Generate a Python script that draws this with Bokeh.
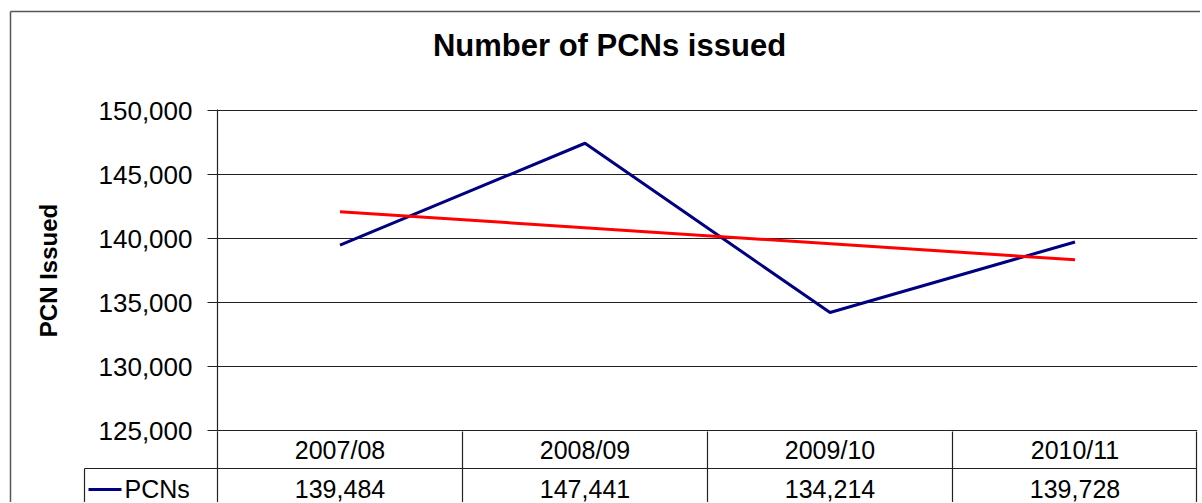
from bokeh.plotting import figure
from bokeh.models import FactorRange, Range1d, FixedTicker, NumeralTickFormatter
from bokeh.core.properties import value
from bokeh.embed import file_html
from bokeh.resources import INLINE

# ---------------- data ----------------
title_text = "Number of PCNs issued"
y_label = "PCN Issued"
series_name = "PCNs"
categories = ["2007/08", "2008/09", "2009/10", "2010/11"]
pcns = [139484, 147441, 134214, 139728]
trend_categories = ["2007/08", "2010/11"]
trend_values = [142090, 138340]
y_ticks = [125000, 130000, 135000, 140000, 145000, 150000]

# ---------------- layout (canvas pixels) ----------------
W, H = 1200, 502
FRAME_L, FRAME_T = 217, 109
FRAME_R, FRAME_B = 1197, 431
FRAME_W = FRAME_R - FRAME_L
FRAME_H = FRAME_B - FRAME_T
CAT_W = FRAME_W / len(categories)
PX_PER_UNIT = 320 / 25000.0          # 150,000 at y=110, 125,000 at y=430
y_end = 150000 + (110 - FRAME_T) / PX_PER_UNIT
y_start = y_end - FRAME_H / PX_PER_UNIT


def dx(px):
    return (px - FRAME_L) / CAT_W


def dy(py):
    return y_end - (py - FRAME_T) / PX_PER_UNIT


FONT = "Liberation Sans"
TXT = "#000000"
LINE = "#222222"

p = figure(frame_width=FRAME_W, frame_height=FRAME_H, title=None,
           x_range=FactorRange(factors=categories),
           y_range=Range1d(y_start, y_end),
           output_backend="svg", toolbar_location=None,
           min_border_left=FRAME_L, min_border_top=FRAME_T,
           min_border_right=W - FRAME_R, min_border_bottom=H - FRAME_B)

p.outline_line_color = None
p.background_fill_color = "white"
p.border_fill_color = "white"

# axes
p.xaxis.visible = False
p.xgrid.visible = False
ticker = FixedTicker(ticks=y_ticks)
yax = p.yaxis[0]
yax.ticker = ticker
yax.formatter = NumeralTickFormatter(format="0,0")
yax.major_label_text_font = FONT
yax.major_label_text_font_size = "26px"
yax.major_label_text_color = TXT
yax.major_label_standoff = 15
yax.major_tick_out = 10
yax.major_tick_in = 0
yax.minor_tick_out = 0
yax.minor_tick_in = 0
yax.major_tick_line_color = LINE
yax.major_tick_line_width = 1.2
yax.axis_line_color = LINE
yax.axis_line_width = 1.2
yax.axis_label = y_label
yax.axis_label_text_font = FONT
yax.axis_label_text_font_size = "24px"
yax.axis_label_text_font_style = "bold"
yax.axis_label_text_color = TXT
yax.axis_label_standoff = 34
p.ygrid.ticker = ticker
p.ygrid.grid_line_color = LINE
p.ygrid.grid_line_width = 1.2

# title (above the frame: overlay level so it is not clipped)
p.text(x=[dx(609)], y=[dy(45)], text=[title_text],
       text_align="center", text_baseline="middle",
       text_font=value(FONT), text_font_size="31px", text_font_style="bold",
       text_color=TXT, level="overlay")

# series
p.line(categories, pcns, line_color="#000080", line_width=3)
p.line(trend_categories, trend_values, line_color="#FF0000", line_width=3)

# data table below the plot (outside the frame: overlay level)
n = len(categories)
p.segment(x0=[dx(84)], y0=[dy(468)], x1=[dx(1196)], y1=[dy(468)],
          line_color=LINE, line_width=1.2, level="overlay")
p.segment(x0=[0, 1, 2, 3, dx(1196), dx(84)],
          y0=[dy(FRAME_B)] * 5 + [dy(468)],
          x1=[0, 1, 2, 3, dx(1196), dx(84)], y1=[dy(540)] * 6,
          line_color=LINE, line_width=1.2, level="overlay")
p.text(x=categories, y=[dy(449)] * n, text=categories,
       text_align="center", text_baseline="middle",
       text_font=value(FONT), text_font_size="25px", text_color=TXT,
       level="overlay")
p.text(x=categories, y=[dy(488)] * n, text=["{:,}".format(v) for v in pcns],
       text_align="center", text_baseline="middle",
       text_font=value(FONT), text_font_size="25px", text_color=TXT,
       level="overlay")

# legend cell left of the table
p.segment(x0=[dx(88)], y0=[dy(489)], x1=[dx(121)], y1=[dy(489)],
          line_color="#000080", line_width=3, level="overlay")
p.text(x=[dx(124)], y=[dy(488)], text=[series_name],
       text_align="left", text_baseline="middle",
       text_font=value(FONT), text_font_size="25px", text_color=TXT,
       level="overlay")

# outer chart border
p.segment(x0=[dx(10), dx(10)], y0=[dy(11), dy(11)],
          x1=[dx(1260), dx(10)], y1=[dy(11), dy(560)],
          line_color="#555555", line_width=1.5, level="overlay")

open("out.html", "w").write(file_html(p, INLINE))
